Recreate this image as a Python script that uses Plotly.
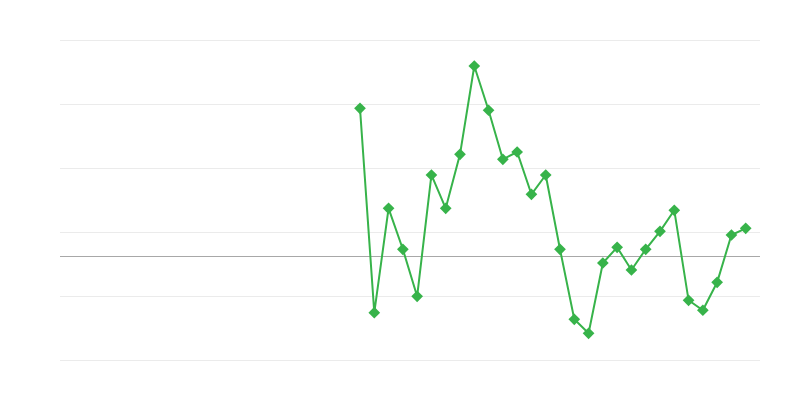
import plotly.graph_objects as go

# x positions (category index 0..49); only 21..48 carry values
x_index = list(range(50))
values = [None] * 21 + [
    23.08, -8.86, 7.45, 1.05, -6.30, 12.66, 7.45, 15.89, 29.69, 22.77,
    15.11, 16.25, 9.64, 12.66, 1.05, -9.89, -12.08, -1.09, 1.36, -2.19,
    1.05, 3.86, 7.14, -6.92, -8.48, -4.11, 3.28, 4.33,
] + [None]

fig = go.Figure()
fig.add_trace(go.Scatter(
    x=x_index, y=values, mode="lines+markers",
    line=dict(color="#37b34a", width=2),
    marker=dict(symbol="diamond", size=9, color="#37b34a"),
    connectgaps=False, showlegend=False, hoverinfo="skip",
))

fig.update_layout(
    width=800, height=400,
    margin=dict(l=52, r=48, t=28, b=44),
    paper_bgcolor="white", plot_bgcolor="white",
    xaxis=dict(range=[0, 49], showgrid=False, zeroline=False,
               showticklabels=False, showline=False, ticks=""),
    yaxis=dict(range=[-16.875, 34.375], tick0=3.75, dtick=10,
               showgrid=True, gridcolor="#ebebeb", gridwidth=1,
               zeroline=True, zerolinecolor="#a8a8a8", zerolinewidth=1,
               showticklabels=False, showline=False, ticks=""),
)

fig.write_html("out.html")
